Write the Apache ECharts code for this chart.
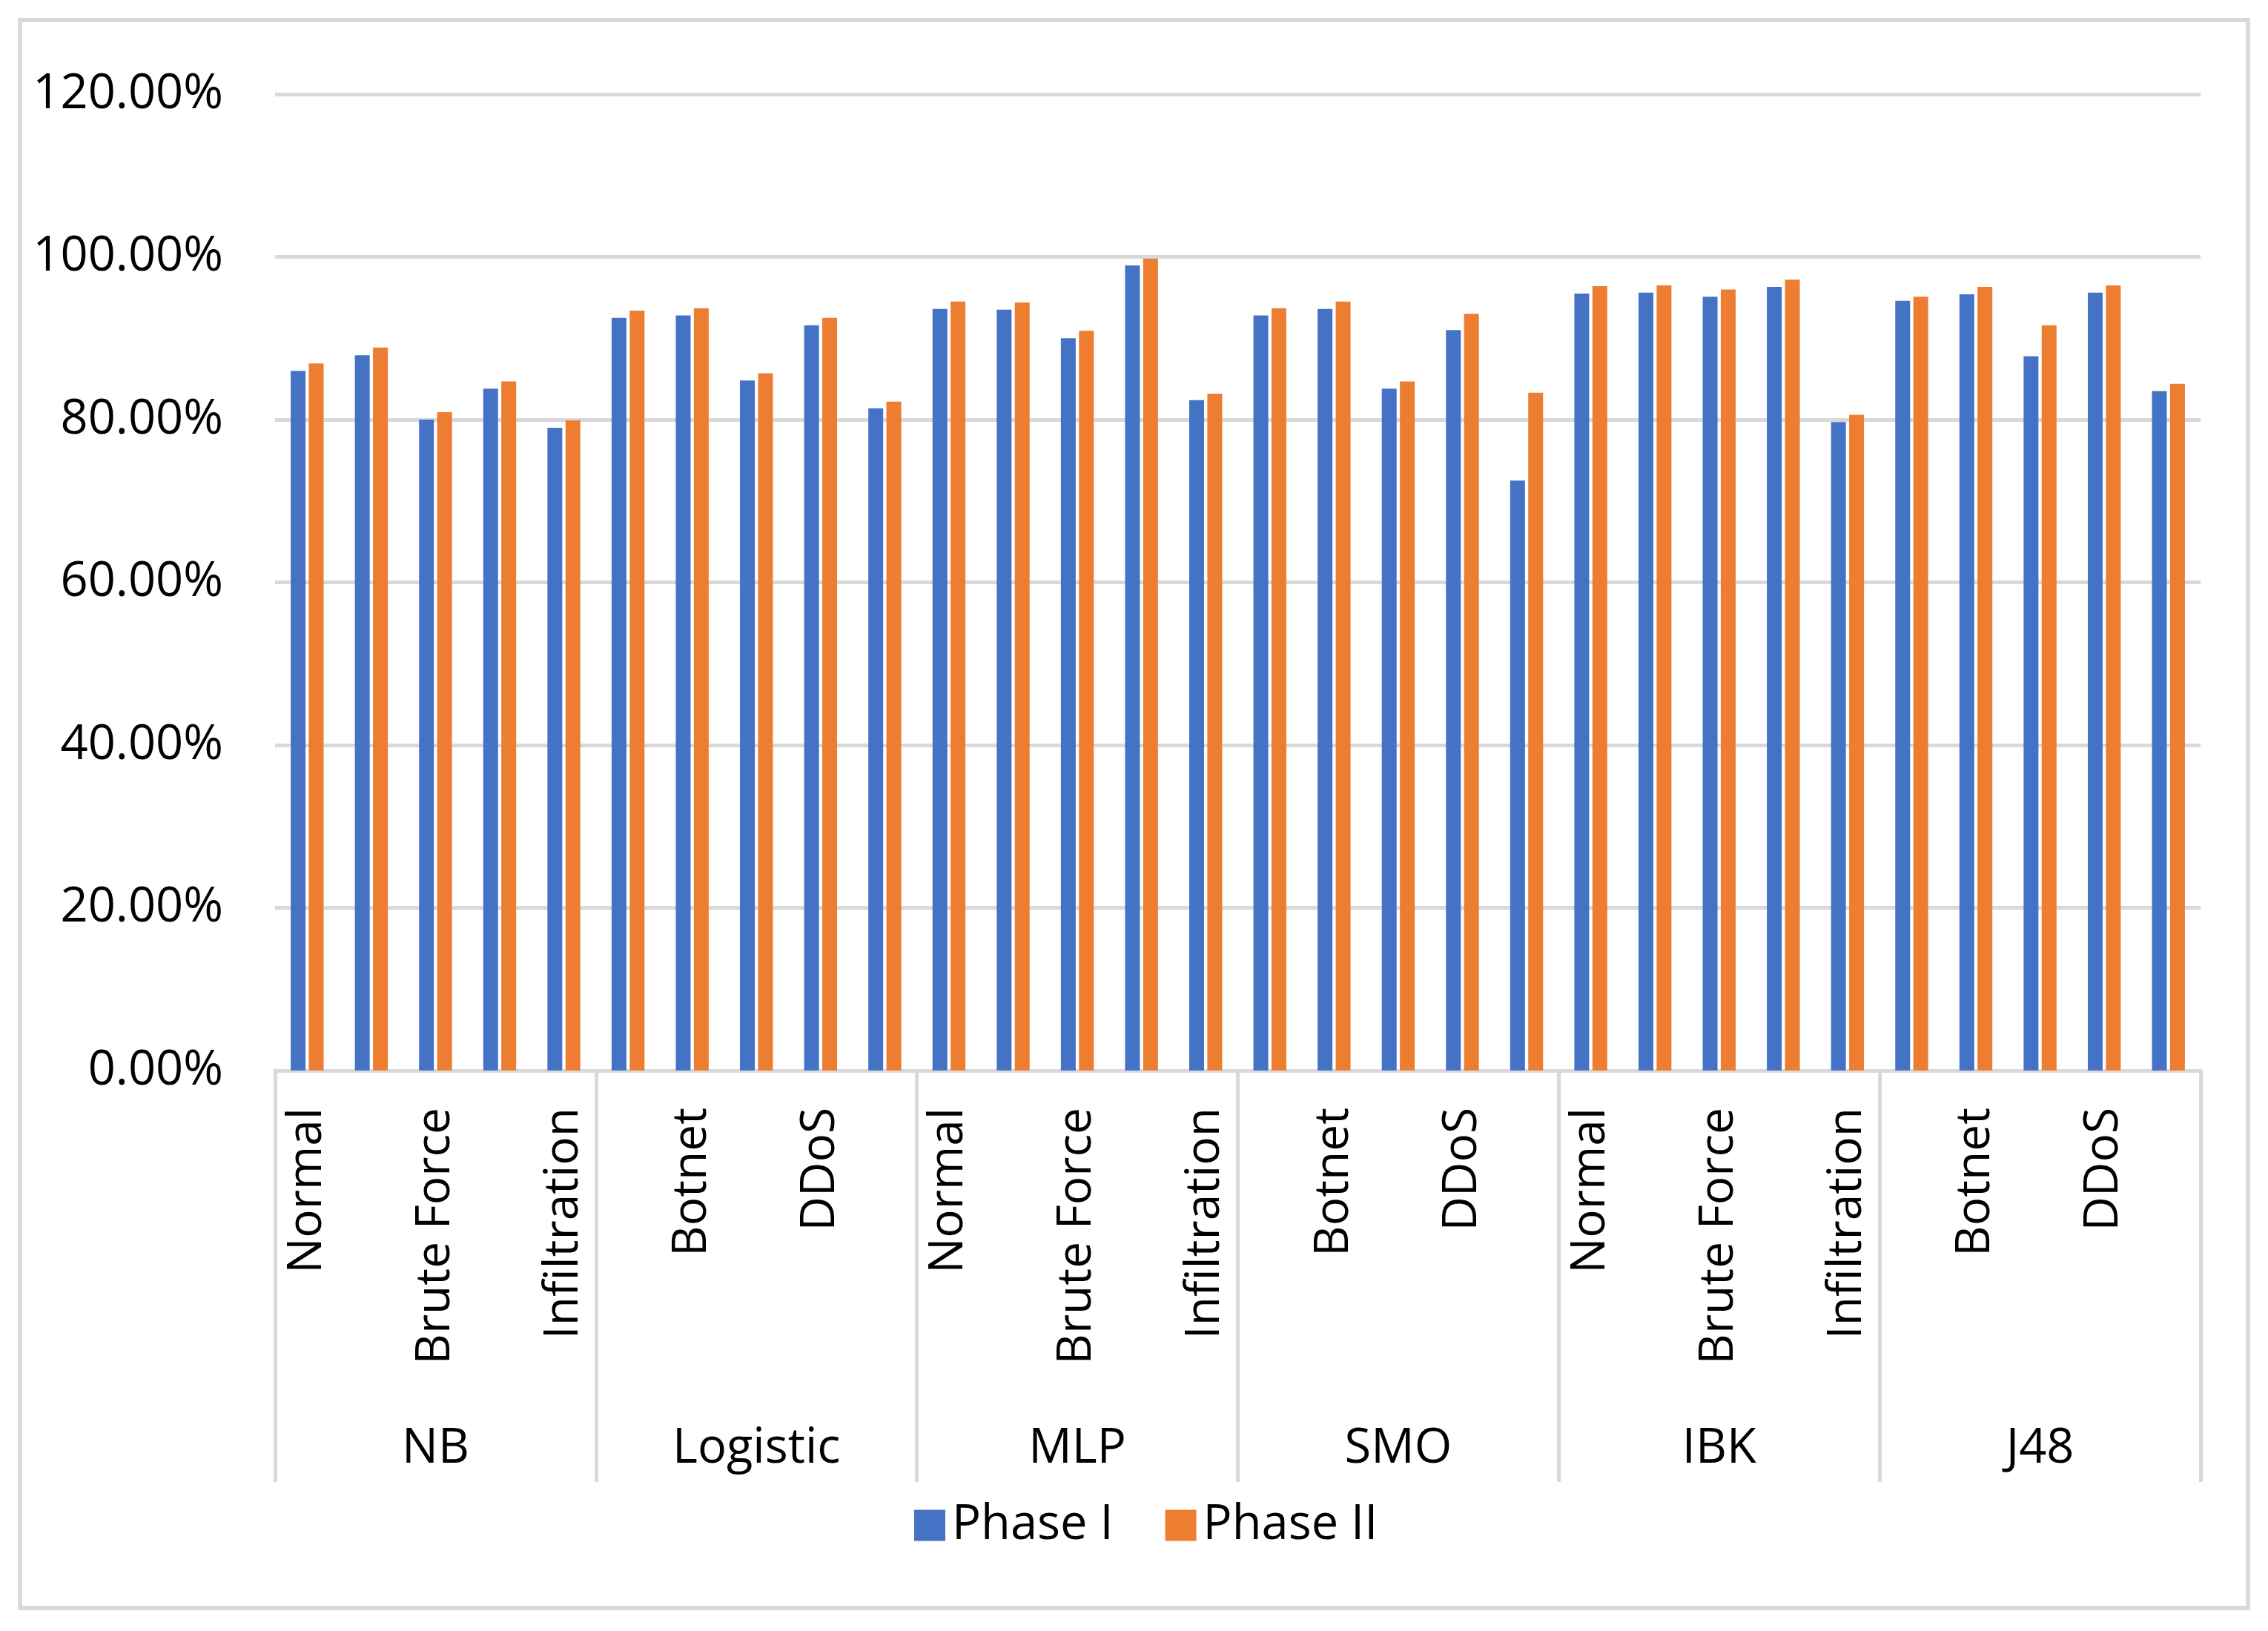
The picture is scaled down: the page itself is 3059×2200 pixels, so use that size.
<!DOCTYPE html>
<html>
<head>
<meta charset="utf-8">
<script src="https://cdn.jsdelivr.net/npm/echarts@6/dist/echarts.min.js"></script>
<style>
  html, body { margin: 0; padding: 0; background: #ffffff; }
  #chart { width: 3059px; height: 2200px; }
</style>
</head>
<body>
<div id="chart"></div>
<script>
const groups = ['NB', 'Logistic', 'MLP', 'SMO', 'IBK', 'J48'];
const attacks = ['Normal', 'Botnet', 'Brute Force', 'DDoS', 'Infiltration'];
const seriesNames = ['Phase I', 'Phase II'];
const phase1 = [86.0, 87.9, 80.0, 83.8, 79.0,
                92.5, 92.8, 84.8, 91.6, 81.4,
                93.6, 93.5, 90.0, 98.95, 82.4,
                92.8, 93.6, 83.8, 91.0, 72.5,
                95.5, 95.6, 95.1, 96.3, 79.7,
                94.6, 95.4, 87.8, 95.6, 83.5];
const phase2 = [86.9, 88.85, 80.9, 84.7, 79.9,
                93.4, 93.7, 85.7, 92.5, 82.2,
                94.5, 94.4, 90.9, 99.8, 83.2,
                93.7, 94.5, 84.7, 93.0, 83.3,
                96.4, 96.5, 96.0, 97.2, 80.6,
                95.1, 96.3, 91.6, 96.5, 84.4];
const yTicks = [0, 20, 40, 60, 80, 100, 120];

const categories = [];
groups.forEach(g => attacks.forEach(a => categories.push(a)));

const gridColor = '#d9d9d9';
const font = 'Open Sans';

const chart = echarts.init(document.getElementById('chart'), null, { renderer: 'canvas', devicePixelRatio: 1 });

const option = {
  backgroundColor: '#ffffff',
  animation: false,
  textStyle: { fontFamily: font, color: '#000000' },
  graphic: [{
    type: 'rect',
    shape: { x: 27, y: 27, width: 3005, height: 2142 },
    style: { fill: null, stroke: gridColor, lineWidth: 6 },
    silent: true,
    z: -1
  }],
  grid: { left: 371, right: 91, top: 127, bottom: 756, containLabel: false },
  legend: {
    data: seriesNames,
    left: 1228,
    top: 2020,
    itemWidth: 42,
    itemHeight: 42,
    itemGap: 70,
    icon: 'rect',
    textStyle: { fontFamily: font, fontSize: 65, color: '#000000', padding: [0, 0, 0, 4] }
  },
  xAxis: [{
    type: 'category',
    data: categories,
    position: 'bottom',
    axisLine: { show: true, lineStyle: { color: gridColor, width: 5 } },
    axisTick: { show: false },
    axisLabel: {
      interval: 1,
      rotate: 90,
      margin: 50,
      fontFamily: font,
      fontSize: 64,
      color: '#000000'
    },
    splitLine: { show: false }
  }, {
    type: 'category',
    data: groups,
    position: 'bottom',
    offset: 0,
    axisLine: { show: false },
    axisTick: { show: true, length: 555, lineStyle: { color: gridColor, width: 5 } },
    axisLabel: {
      margin: 478,
      fontFamily: font,
      fontSize: 65,
      lineHeight: 65,
      color: '#000000'
    },
    splitLine: { show: false }
  }],
  yAxis: {
    type: 'value',
    min: yTicks[0],
    max: yTicks[yTicks.length - 1],
    interval: yTicks[1] - yTicks[0],
    axisLine: { show: false },
    axisTick: { show: false },
    axisLabel: {
      margin: 70,
      fontFamily: font,
      fontSize: 65,
      color: '#000000',
      formatter: v => v.toFixed(2) + '%'
    },
    splitLine: { show: true, lineStyle: { color: gridColor, width: 5 } }
  },
  series: [{
    name: seriesNames[0],
    type: 'bar',
    xAxisIndex: 0,
    data: phase1,
    barWidth: 20,
    barGap: '22%',
    itemStyle: { color: '#4472C4' }
  }, {
    name: seriesNames[1],
    type: 'bar',
    xAxisIndex: 0,
    data: phase2,
    barWidth: 20,
    barGap: '22%',
    itemStyle: { color: '#ED7D31' }
  }]
};

chart.setOption(option);
</script>
</body>
</html>
